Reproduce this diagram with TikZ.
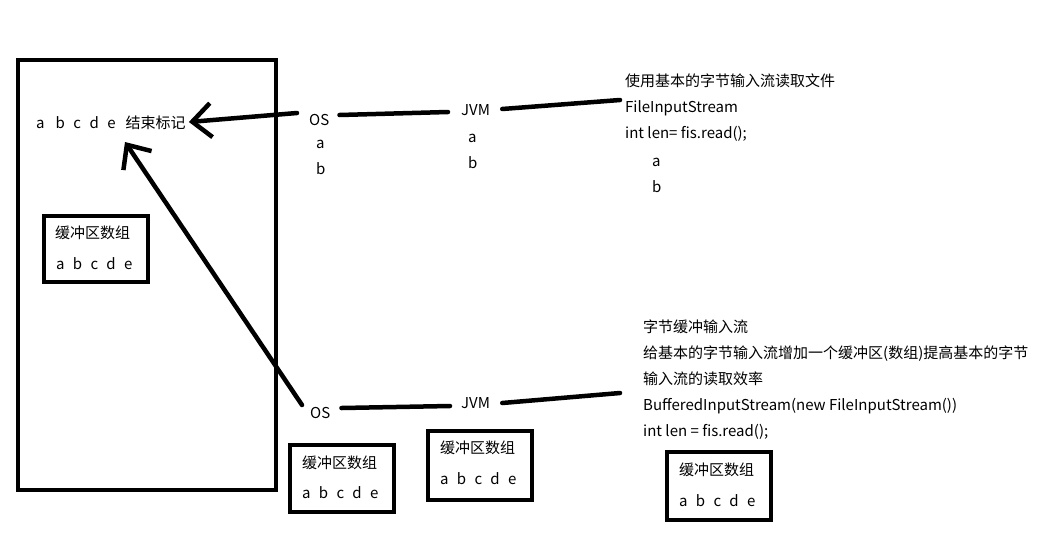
\documentclass[tikz,border=0pt]{standalone}
\usepackage{fontspec}
\setmainfont{Noto Sans CJK SC}
\usetikzlibrary{arrows.meta}
\newcommand\lgap{\hspace{8.3pt}}
\newcommand\rgap{\hspace{8.5pt}}
\begin{document}
\begin{tikzpicture}[x=1pt,y=-1pt,
  every node/.style={font=\fontsize{15}{17}\selectfont, inner sep=0pt},
  thick line/.style={line width=4.5pt, line cap=round, draw=black},
  box/.style={line width=4pt, draw=black},
  barb/.style={thick line, -{Straight Barb[length=19pt,width=34pt,line width=4.5pt]}},
  txt/.style={anchor=base west}]
\useasboundingbox (0,0) rectangle (1046,547);
% big memory box
\draw[box] (18,60) rectangle (276,490);
\node[txt] (row) at (36,128) {a\hspace{11pt}b\rgap c\rgap d\rgap e\hspace{10pt}结束标记};
\coordinate (rowtip) at (125,142);
% inner buffer box (left)
\draw[box] (44,216) rectangle (148,282);
\node[txt] (lb1) at (55,238) {缓冲区数组};
\node[txt] (lb2) at (56,269) {a\lgap b\lgap c\lgap d\lgap e};
% top chain
\node[txt] (os1) at (309,125) {OS};
\node[txt] (os1a) at (316,148) {a};
\node[txt] (os1b) at (316,174) {b};
\node[txt] (jvm1) at (461,115) {JVM};
\node[txt] (jvm1a) at (468,142) {a};
\node[txt] (jvm1b) at (468,168) {b};
\node[txt] (t1) at (625,86) {使用基本的字节输入流读取文件};
\node[txt] (t2) at (625,112) {FileInputStream};
\node[txt] (t3) at (625,138) {int len= fis.read();};
\node[txt] (t4) at (652,166) {a};
\node[txt] (t5) at (652,192) {b};
\draw[barb] ([xshift=-12pt,yshift=12pt]os1.base west) -- ([xshift=3pt,yshift=6pt]row.base east);
\draw[thick line] ([xshift=10pt,yshift=10pt]os1.base east) -- ([xshift=-13pt,yshift=3pt]jvm1.base west);
\draw[thick line] ([xshift=12pt,yshift=6pt]jvm1.base east) -- ([xshift=-5pt,yshift=12pt]t2.base west);
% bottom chain
\node[txt] (os2) at (310,418) {OS};
\node[txt] (jvm2) at (461,408) {JVM};
\node[txt] (u1) at (643,332) {字节缓冲输入流};
\node[txt] (u2) at (643,358) {给基本的字节输入流增加一个缓冲区(数组)提高基本的字节};
\node[txt] (u3) at (643,384) {输入流的读取效率};
\node[txt] (u4) at (643,410) {BufferedInputStream(new FileInputStream())};
\node[txt] (u5) at (643,436) {int len = fis.read();};
\draw[barb] ([xshift=-8pt,yshift=13pt]os2.base west) -- (rowtip);
\draw[thick line] ([xshift=11pt,yshift=10pt]os2.base east) -- ([xshift=-11pt,yshift=2pt]jvm2.base west);
\draw[thick line] ([xshift=12pt,yshift=5pt]jvm2.base east) -- ([xshift=-23pt,yshift=17pt]u4.base west);
% bottom buffer boxes
\draw[box] (290,445) rectangle (394,512);
\node[txt] (b1a) at (302,468) {缓冲区数组};
\node[txt] (b1b) at (302,498) {a\lgap b\lgap c\lgap d\lgap e};
\draw[box] (428,431) rectangle (532,500);
\node[txt] (b2a) at (440,453) {缓冲区数组};
\node[txt] (b2b) at (440,484) {a\lgap b\lgap c\lgap d\lgap e};
\draw[box] (667,452) rectangle (771,520);
\node[txt] (b3a) at (679,475) {缓冲区数组};
\node[txt] (b3b) at (679,506) {a\lgap b\lgap c\lgap d\lgap e};
\end{tikzpicture}
\end{document}
